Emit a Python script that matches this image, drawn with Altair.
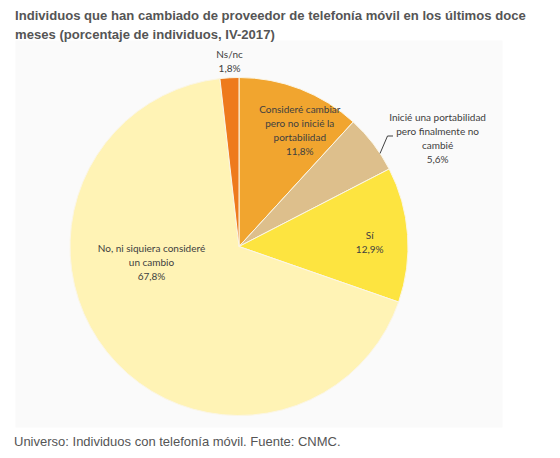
import altair as alt
import pandas as pd

# datos (orden de las porciones en el sentido de las agujas del reloj)
categorias = [
    "Consideré cambiar pero no inicié la portabilidad",
    "Inicié una portabilidad pero finalmente no cambié",
    "Sí",
    "No, ni siquiera consideré un cambio",
    "Ns/nc",
]
porcentajes = [11.8, 5.6, 12.9, 67.8, 1.8]
etiquetas = [
    "Consideré cambiar\npero no inicié la\nportabilidad",
    "Inicié una portabilidad\npero finalmente no\ncambié",
    "Sí",
    "No, ni siquiera consideré\nun cambio",
    "Ns/nc",
]
colores = ["#F1A52F", "#DDBF8C", "#FDE440", "#FFF3B5", "#EE7A1C"]

titulo = [
    "Individuos que han cambiado de proveedor de telefonía móvil en los últimos doce",
    "meses (porcentaje de individuos, IV-2017)",
]
fuente = "Universo: Individuos con telefonía móvil. Fuente: CNMC."

df = pd.DataFrame({
    "cat": categorias,
    "pct": porcentajes,
    "orden": list(range(len(categorias))),
    "label": [f"{e}\n{str(p).replace('.', ',')}%" for e, p in zip(etiquetas, porcentajes)],
})
total = sum(porcentajes)

CX, CY, R = 224, 206.5, 169
theta_scale = alt.Scale(domain=[0, total])

pie = (
    alt.Chart(df)
    .mark_arc(radius=R, stroke="#FBF6E6", strokeWidth=1)
    .encode(
        theta=alt.Theta("pct:Q", stack=True, scale=theta_scale),
        color=alt.Color("cat:N", scale=alt.Scale(domain=categorias, range=colores), legend=None),
        order=alt.Order("orden:Q"),
        x=alt.value(CX),
        y=alt.value(CY),
    )
)

# posición de cada etiqueta: radio y pequeño desplazamiento (la primera línea queda en el punto)
colocacion = {
    categorias[0]: (129, 14, -16),
    categorias[1]: (226, 19, 9),
    categorias[2]: (131, 0, -1),
    categorias[3]: (89, -18, -53),
    categorias[4]: (185, 1, -7),
}

layers = [pie]
for cat in categorias:
    r, dx, dy = colocacion[cat]
    txt = (
        alt.Chart(df)
        .transform_window(cum="sum(pct)", sort=[alt.SortField("orden")])
        .transform_calculate(mid="datum.cum - datum.pct / 2")
        .transform_filter(alt.datum.cat == cat)
        .mark_text(
            radius=r, dx=dx, dy=dy, font="Lato", fontSize=10, color="#404040",
            lineBreak="\n", lineHeight=14, align="center", baseline="middle",
        )
        .encode(
            theta=alt.Theta("mid:Q", stack=False, scale=theta_scale),
            text="label:N",
            x=alt.value(CX),
            y=alt.value(CY),
        )
    )
    layers.append(txt)

uno = pd.DataFrame({"a": [0]})
guia1 = alt.Chart(uno).mark_rule(color="#404040", strokeWidth=1).encode(
    x=alt.value(365), x2=alt.value(372.5), y=alt.value(113.5), y2=alt.value(96)
)
guia2 = alt.Chart(uno).mark_rule(color="#404040", strokeWidth=1).encode(
    x=alt.value(372.5), x2=alt.value(378), y=alt.value(96), y2=alt.value(96)
)
pie_txt = alt.Chart(pd.DataFrame({"t": [fuente]})).mark_text(
    font="Liberation Sans", fontSize=13, color="#555555", align="left", baseline="alphabetic"
).encode(text="t:N", x=alt.value(-1), y=alt.value(406))

chart = (
    alt.layer(*layers, guia1, guia2, pie_txt)
    .properties(
        width=487,
        height=387,
        padding={"left": 7, "top": 32, "right": 50, "bottom": 25},
        autosize=alt.AutoSizeParams(type="none"),
        title=alt.TitleParams(
            text=titulo, anchor="start", frame="group", font="Liberation Sans",
            fontSize=13.1, fontWeight="bold", color="#555555", lineHeight=19, offset=-2,
        ),
        background="white",
    )
    .configure_view(fill="#FAFAFA", stroke="transparent")
)

chart.save("out.html", embed_options={"renderer": "svg", "actions": False})
